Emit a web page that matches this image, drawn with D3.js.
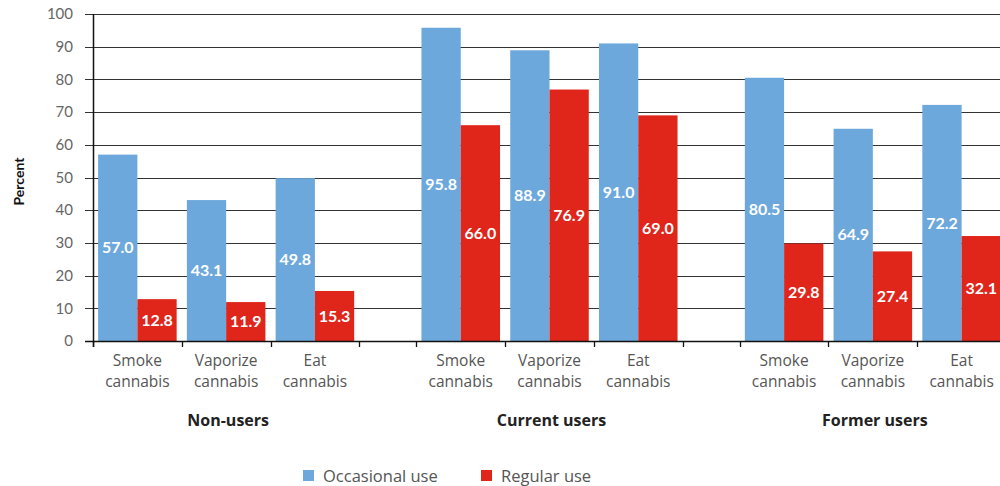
<!DOCTYPE html>
<html><head><meta charset="utf-8">
<script src="https://cdn.jsdelivr.net/npm/d3@7"></script>
<style>body{margin:0;background:#fff;} svg{display:block;font-family:Lato,"Open Sans",sans-serif;}</style>
</head><body>
<svg id="c" width="1000" height="486"></svg>
<script>
const groups = ["Non-users", "Current users", "Former users"];
const categories = ["Smoke cannabis", "Vaporize cannabis", "Eat cannabis"];
const seriesNames = ["Occasional use", "Regular use"];
const occasional = [[57.0, 43.1, 49.8], [95.8, 88.9, 91.0], [80.5, 64.9, 72.2]];
const regular = [[12.8, 11.9, 15.3], [66.0, 76.9, 69.0], [29.8, 27.4, 32.1]];
const yTicks = [0, 10, 20, 30, 40, 50, 60, 70, 80, 90, 100];
const colors = ["#6DA8DC", "#E0251B"];

(function () {
const svg = d3.select("#c");
const pl = 93, pr = 1006, pt = 14, pb = 341;
const y = d3.scaleLinear().domain([0, 100]).range([pb, pt]);
const x0 = d3.scaleBand().domain(groups).range([pl, pr]).paddingInner(0.1765);
const x1 = d3.scaleBand().domain(categories).range([0, x0.bandwidth()]);
const x2 = d3.scaleBand().domain(seriesNames).range([0, x1.bandwidth()]).paddingOuter(0.13);
const wide = "'Open Sans', sans-serif";

svg.append("g").selectAll("line").data(yTicks).join("line")
  .attr("x1", pl - 8).attr("x2", 1000)
  .attr("y1", d => Math.round(y(d)) + 0.5).attr("y2", d => Math.round(y(d)) + 0.5)
  .attr("stroke", "#333").attr("stroke-width", 1.2);

svg.append("g").selectAll("text").data(yTicks).join("text")
  .attr("x", 73).attr("y", d => y(d)).attr("dy", "0.35em")
  .attr("text-anchor", "end").attr("font-size", 15).attr("fill", "#666")
  .text(d => d);

svg.append("text").attr("transform", `translate(24,${(pt + pb) / 2 + 4}) rotate(-90)`)
  .attr("text-anchor", "middle").attr("font-size", 14).attr("font-weight", 700).attr("fill", "#111")
  .text("Percent");

const data = [];
groups.forEach((g, gi) => categories.forEach((c, ci) => {
  data.push({g, c, s: seriesNames[0], v: occasional[gi][ci], si: 0});
  data.push({g, c, s: seriesNames[1], v: regular[gi][ci], si: 1});
}));
const bx = d => x0(d.g) + x1(d.c) + x2(d.s);
svg.append("g").selectAll("rect").data(data).join("rect")
  .attr("x", bx).attr("width", x2.bandwidth())
  .attr("y", d => y(d.v)).attr("height", d => y(0) - y(d.v))
  .attr("fill", d => colors[d.si]);

svg.append("g").selectAll("text").data(data).join("text")
  .attr("x", d => bx(d) + x2.bandwidth() / 2)
  .attr("y", d => (y(d.v) + y(0)) / 2).attr("dy", "0.35em")
  .attr("text-anchor", "middle").attr("font-size", 16).attr("font-weight", 700).attr("fill", "#fff")
  .text(d => d.v.toFixed(1));

svg.append("line").attr("x1", pl - 8).attr("x2", 1000).attr("y1", pb + 0.5).attr("y2", pb + 0.5)
  .attr("stroke", "#111").attr("stroke-width", 1.5);
svg.append("line").attr("x1", pl + 0.5).attr("x2", pl + 0.5).attr("y1", pt).attr("y2", pb + 6)
  .attr("stroke", "#111").attr("stroke-width", 1.5);

const tickXs = [];
groups.forEach(g => { for (let k = 0; k <= categories.length; k++) tickXs.push(x0(g) + k * x1.step()); });
svg.append("g").selectAll("line").data(tickXs).join("line")
  .attr("x1", d => Math.round(d) + 0.5).attr("x2", d => Math.round(d) + 0.5)
  .attr("y1", pb).attr("y2", pb + 6).attr("stroke", "#111").attr("stroke-width", 1.3);

groups.forEach(g => categories.forEach(c => {
  const parts = c.split(" ");
  const t = svg.append("text").attr("text-anchor", "middle").attr("font-family", wide)
    .attr("font-size", 15.5).attr("fill", "#555");
  parts.forEach((p, i) => t.append("tspan").attr("x", x0(g) + x1(c) + x1.bandwidth() / 2)
    .attr("y", 366 + i * 21).text(p));
}));

svg.append("g").selectAll("text").data(groups).join("text")
  .attr("x", g => x0(g) + x0.bandwidth() / 2 + 2).attr("y", 426)
  .attr("text-anchor", "middle").attr("font-family", wide).attr("font-size", 16).attr("font-weight", 700).attr("fill", "#222")
  .text(g => g);

const legX = [303, 481];
const lg = svg.append("g").selectAll("g").data(seriesNames).join("g")
  .attr("transform", (d, i) => `translate(${legX[i]},470)`);
lg.append("rect").attr("width", 11).attr("height", 11).attr("fill", (d, i) => colors[i]);
lg.append("text").attr("x", 20).attr("y", 6).attr("dy", "0.35em").attr("font-family", wide)
  .attr("font-size", 16.5).attr("fill", "#555")
  .text(d => d);
})();
</script>
</body></html>
